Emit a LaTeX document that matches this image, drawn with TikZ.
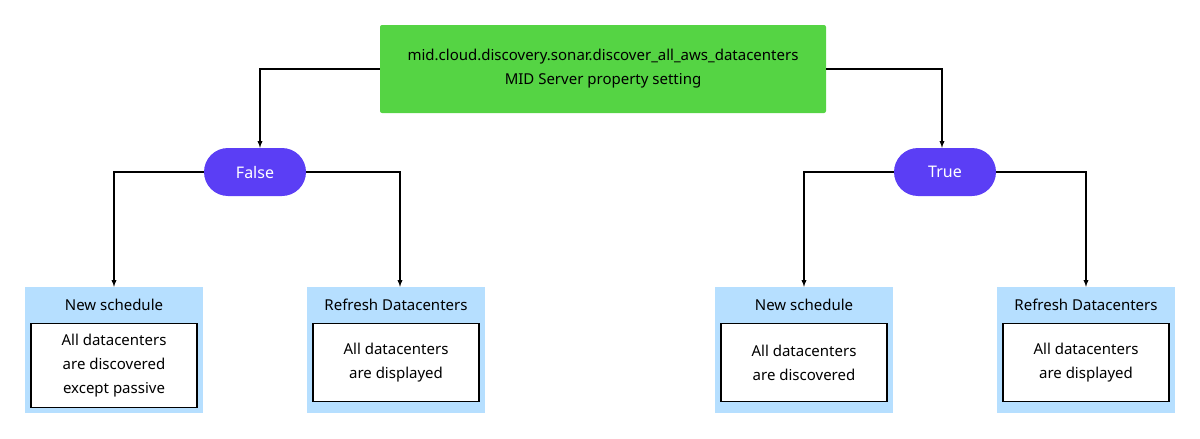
\documentclass[tikz,border=0pt]{standalone}
\usepackage{fontspec}
\setmainfont{Noto Sans}
\usetikzlibrary{positioning}
\definecolor{setgreen}{HTML}{55D444}
\definecolor{pillblue}{HTML}{5B3EF5}
\definecolor{panelblue}{HTML}{B6DFFF}
\tikzset{
  setting/.style={draw=none,fill=setgreen,rounded corners=2pt,minimum width=446pt,minimum height=88pt,align=center,font=\fontsize{15}{24}\selectfont},
  choice/.style={draw=none,fill=pillblue,rounded corners=24pt,minimum width=102pt,minimum height=48pt,text=white,font=\fontsize{16}{19}\selectfont},
  panel/.style={fill=panelblue,minimum width=178pt,minimum height=126pt},
  result/.style={draw,line width=1.2pt,fill=white,align=center,font=\fontsize{15}{24}\selectfont},
  flow/.style={->,>=latex,line width=1.3pt}
}
\begin{document}
\begin{tikzpicture}[x=1pt,y=-1pt]
  \useasboundingbox (0,0) rectangle (1200,439);
  \node[setting, name=prop] at (603,69) {mid.cloud.discovery.sonar.discover\_all\_aws\_datacenters\\MID Server property setting};
  \node[choice, name=false] at (255,172) {False};
  \node[choice, name=true] at (945,172) {True};

  \foreach \nm/\cx/\title/\body/\h in {
      fnew/114/New schedule/All datacenters\\are discovered\\except passive/84,
      fref/396/Refresh Datacenters/All datacenters\\are displayed/78,
      tnew/804/New schedule/All datacenters\\are discovered/78,
      tref/1086/Refresh Datacenters/All datacenters\\are displayed/78} {
    \node[panel, name=\nm] at (\cx,350) {};
    \node[font=\fontsize{15}{18}\selectfont] at (\cx,305) {\title};
    \node[result, minimum width=166pt, minimum height=\h pt, anchor=north] at (\cx,323) {\body};
  }

  \draw[flow] (prop.west |- 0,69) -| (false.north -| 260,0);
  \draw[flow] (prop.east |- 0,69) -| (true.north -| 942,0);
  \draw[flow] (false.west) -| (fnew.north);
  \draw[flow] (false.east) -| (fref.north -| 400,0);
  \draw[flow] (true.west) -| (tnew.north);
  \draw[flow] (true.east) -| (tref.north -| 1086,0);
\end{tikzpicture}
\end{document}
